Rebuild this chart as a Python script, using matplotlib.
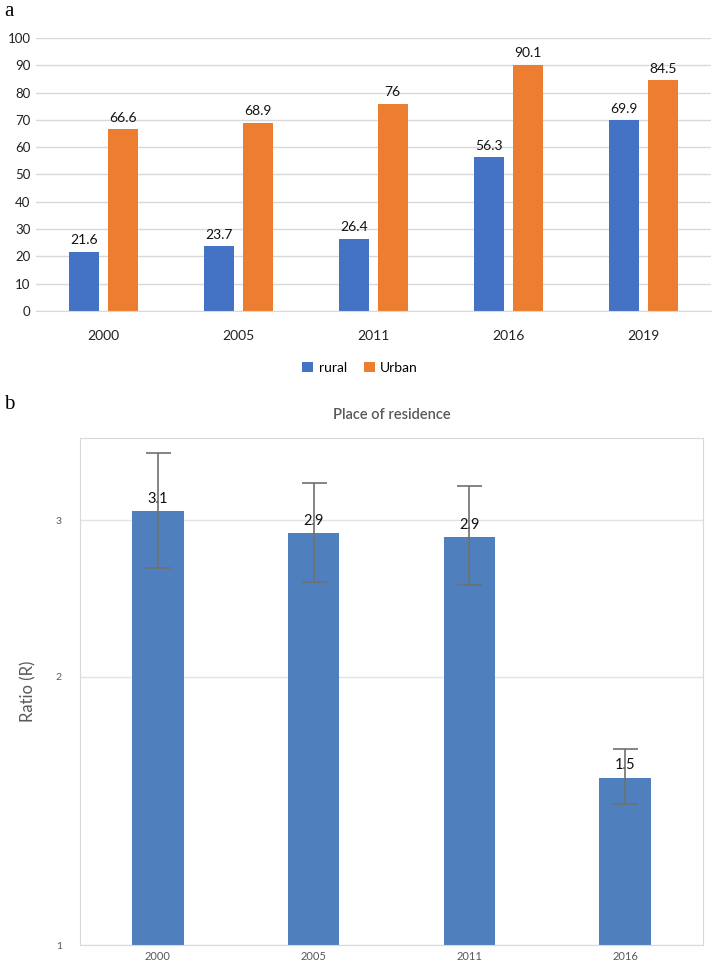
import numpy as np
import matplotlib.pyplot as plt

plt.rcParams['font.family'] = ['Lato', 'DejaVu Sans']

# panel a: rural vs urban
years_a = ['2000', '2005', '2011', '2016', '2019']
rural = [21.6, 23.7, 26.4, 56.3, 69.9]
urban = [66.6, 68.9, 76, 90.1, 84.5]

# panel b: ratio with confidence interval
years_b = ['2000', '2005', '2011', '2016']
ratio = [3.07, 2.90, 2.87, 1.54]
ratio_labels = ['3.1', '2.9', '2.9', '1.5']
ratio_low = [2.65, 2.56, 2.54, 1.44]
ratio_high = [3.57, 3.30, 3.28, 1.66]

fig = plt.figure(figsize=(7.12, 9.64), dpi=100)

# ---- panel a ----
ax1 = fig.add_axes([0.0506, 0.6774, 0.9480, 0.2832])
x = np.arange(len(years_a))
w = 0.222
off = 0.1425
b1 = ax1.bar(x - off, rural, w, color='#4472c4', label='rural', zorder=2)
b2 = ax1.bar(x + off, urban, w, color='#ed7d31', label='Urban', zorder=2)
for bars, vals in ((b1, rural), (b2, urban)):
    ax1.bar_label(bars, labels=[f'{v:g}' for v in vals], padding=4,
                  fontsize=10, color='#111111')
ax1.set_xlim(-0.5, len(years_a) - 0.5)
ax1.set_ylim(0, 100)
ax1.set_yticks(np.arange(0, 101, 10))
ax1.set_xticks(x, years_a)
ax1.grid(axis='y', color='#d9d9d9', lw=1, zorder=0)
for s in ['top', 'right', 'left']:
    ax1.spines[s].set_visible(False)
ax1.spines['bottom'].set_color('#d9d9d9')
ax1.tick_params(length=0, labelsize=9.5, colors='#222222')
ax1.tick_params(axis='x', pad=14, labelsize=10)
ax1.tick_params(axis='y', pad=4)
ax1.legend(loc='upper center', bbox_to_anchor=(0.48, -0.14), ncol=2,
           frameon=False, handlelength=0.8, handleheight=0.8,
           handletextpad=0.4, columnspacing=1.2, fontsize=10)

# ---- panel b ----
ax2 = fig.add_axes([0.1124, 0.0197, 0.8750, 0.5259])
xb = np.arange(len(years_b))
r = np.array(ratio)
yerr = [r - np.array(ratio_low), np.array(ratio_high) - r]
ax2.bar(xb, ratio, 0.33, color='#4f7fbc', zorder=2)
ax2.errorbar(xb, ratio, yerr=yerr, fmt='none', ecolor='#707070',
             elinewidth=1.2, capsize=9, capthick=1.2, zorder=4)
for xi, v, lab in zip(xb, ratio, ratio_labels):
    ax2.annotate(lab, (xi, v), xytext=(0, 4), textcoords='offset points',
                 ha='center', va='bottom', fontsize=10.5, color='#111111', zorder=3)
ax2.set_yscale('log')
ax2.set_ylim(1, 3.71)
ax2.set_xlim(-0.5, len(years_b) - 0.5)
ax2.set_yticks([1, 2, 3], ['1', '2', '3'])
ax2.yaxis.set_minor_locator(plt.NullLocator())
ax2.set_xticks(xb, years_b)
ax2.grid(axis='y', color='#e3e3e3', lw=1, zorder=0)
for s in ax2.spines.values():
    s.set_color('#d9d9d9')
ax2.tick_params(length=0, colors='#595959')
ax2.tick_params(axis='y', labelsize=7.5, pad=13)
ax2.tick_params(axis='x', labelsize=8, pad=4)
ax2.set_ylabel('Ratio (R)', fontsize=12, color='#595959')
ax2.yaxis.set_label_coords(-0.07, 0.5)
ax2.set_title('Place of residence', fontsize=10.5, color='#595959',
              fontweight='semibold', pad=14)

fig.text(0.006, 0.9876, 'a', family='Liberation Serif', fontsize=15, va='center')
fig.text(0.006, 0.58, 'b', family='Liberation Serif', fontsize=15, va='center')

fig.savefig('out.png', dpi=100)
